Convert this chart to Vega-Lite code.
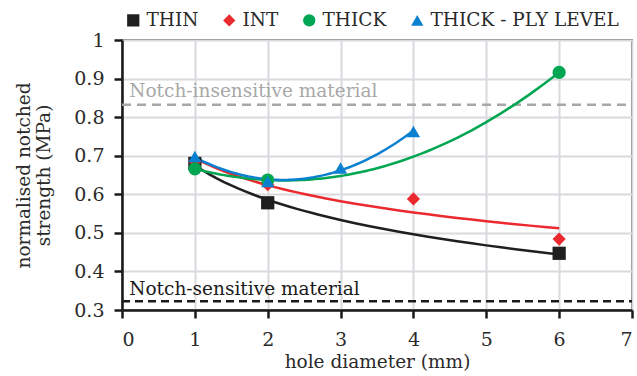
{
  "$schema": "https://vega.github.io/schema/vega-lite/v6.json",
  "width": 510,
  "height": 270,
  "autosize": {"type": "none"},
  "padding": {"left": 122, "top": 40, "right": 5, "bottom": 66},
  "background": "white",
  "config": {
    "font": "DejaVu Serif",
    "view": {"stroke": "#3a3a3a", "strokeWidth": 1.5},
    "axis": {
      "domainColor": "#1a1a1a",
      "domainWidth": 2.5,
      "tickColor": "#1a1a1a",
      "tickWidth": 2.5,
      "tickSize": 8,
      "grid": true,
      "gridColor": "#d9d9de",
      "gridWidth": 2,
      "labelFontSize": 19,
      "labelColor": "#2a2a2a",
      "labelOverlap": false,
      "titleFontSize": 18.5,
      "titleFontWeight": "normal",
      "titleColor": "#2a2a2a",
      "labelFont": "DejaVu Serif",
      "titleFont": "DejaVu Serif"
    },
    "axisY": {"tickCount": 8},
    "legend": {"labelFont": "DejaVu Serif", "labelFontSize": 18.5, "labelLimit": 400}
  },
  "datasets": {
    "pts": [
      {"series": "THIN", "d": 1, "s": 0.68},
      {"series": "THIN", "d": 2, "s": 0.578},
      {"series": "THIN", "d": 6, "s": 0.447},
      {"series": "INT", "d": 1, "s": 0.685},
      {"series": "INT", "d": 2, "s": 0.625},
      {"series": "INT", "d": 4, "s": 0.588},
      {"series": "INT", "d": 6, "s": 0.484},
      {"series": "THICK", "d": 1, "s": 0.666},
      {"series": "THICK", "d": 2, "s": 0.637},
      {"series": "THICK", "d": 6, "s": 0.916},
      {"series": "THICK - PLY LEVEL", "d": 1, "s": 0.698},
      {"series": "THICK - PLY LEVEL", "d": 2, "s": 0.633},
      {"series": "THICK - PLY LEVEL", "d": 3, "s": 0.668},
      {"series": "THICK - PLY LEVEL", "d": 4, "s": 0.763}
    ]
  },
  "encoding": {
    "x": {"field": "d", "type": "quantitative", "scale": {"domain": [0, 7], "nice": false},
      "axis": {"title": "hole diameter (mm)", "values": [0, 1, 2, 3, 4, 5, 6, 7], "format": "d", "labelFontSize": 19, "labelPadding": 12, "titlePadding": 3}},
    "y": {"field": "s", "type": "quantitative", "scale": {"domain": [0.3, 1], "nice": false},
      "axis": {"title": ["normalised notched", "strength (MPa)"], "values": [0.3, 0.4, 0.5, 0.6, 0.7, 0.8, 0.9, 1], "tickCount": 8, "labelExpr": "datum.value == 1 ? '1' : format(datum.value, '.1f')", "labelFontSize": 19, "titlePadding": 20, "titleLineHeight": 20, "labelPadding": 10}}
  },
  "layer": [
    {
      "data": {"values": [{"s": 0.832, "d": 0, "d2": 7}]},
      "mark": {"type": "rule", "color": "#a8a8a8", "strokeWidth": 2.5, "strokeDash": [9, 6]},
      "encoding": {"x2": {"field": "d2"}}
    },
    {
      "data": {"values": [{"s": 0.323, "d": 0, "d2": 7}]},
      "mark": {"type": "rule", "color": "#1a1a1a", "strokeWidth": 2.5, "strokeDash": [8, 5]},
      "encoding": {"x2": {"field": "d2"}}
    },
    {
      "data": {"values": [{"s": 0.832, "d": 0.1, "label": "Notch-insensitive material"}]},
      "mark": {"type": "text", "color": "#a8a8a8", "fontSize": 18.5, "align": "left", "baseline": "alphabetic", "dy": -8},
      "encoding": {"text": {"field": "label"}}
    },
    {
      "data": {"values": [{"s": 0.323, "d": 0.1, "label": "Notch-sensitive material"}]},
      "mark": {"type": "text", "color": "#1a1a1a", "fontSize": 18.5, "align": "left", "baseline": "alphabetic", "dy": -6},
      "encoding": {"text": {"field": "label"}}
    },
    {
      "data": {"name": "pts"},
      "transform": [
        {"filter": {"field": "series", "oneOf": ["THIN", "INT"]}},
        {"regression": "s", "on": "d", "method": "log", "groupby": ["series"]}
      ],
      "mark": {"type": "line", "strokeWidth": 2.5},
      "encoding": {"color": {"field": "series", "type": "nominal"}}
    },
    {
      "data": {"name": "pts"},
      "transform": [
        {"filter": {"field": "series", "oneOf": ["THICK", "THICK - PLY LEVEL"]}},
        {"regression": "s", "on": "d", "method": "poly", "order": 2, "groupby": ["series"]}
      ],
      "mark": {"type": "line", "strokeWidth": 2.5},
      "encoding": {"color": {"field": "series", "type": "nominal"}}
    },
    {
      "data": {"name": "pts"},
      "mark": {"type": "point", "filled": true, "opacity": 1, "size": 175},
      "encoding": {
        "color": {
          "field": "series", "type": "nominal",
          "scale": {"domain": ["THIN", "INT", "THICK", "THICK - PLY LEVEL"], "range": ["#1f1f1f", "#ea2a2f", "#00a651", "#0a80d0"]},
          "legend": {"title": null, "orient": "none", "direction": "horizontal", "legendX": 2, "legendY": -29, "labelFontSize": 18.5, "labelLimit": 400, "labelColor": "#2a2a2a", "symbolSize": 150, "columnPadding": 21, "labelOffset": 4, "symbolStrokeWidth": 0}
        },
        "shape": {
          "field": "series", "type": "nominal",
          "scale": {"domain": ["THIN", "INT", "THICK", "THICK - PLY LEVEL"], "range": ["square", "diamond", "circle", "triangle-up"]},
          "legend": {"title": null, "orient": "none", "direction": "horizontal", "legendX": 2, "legendY": -29, "labelFontSize": 18.5, "labelLimit": 400, "labelColor": "#2a2a2a", "symbolSize": 150, "columnPadding": 21, "labelOffset": 4, "symbolStrokeWidth": 0}
        }
      }
    }
  ]
}
